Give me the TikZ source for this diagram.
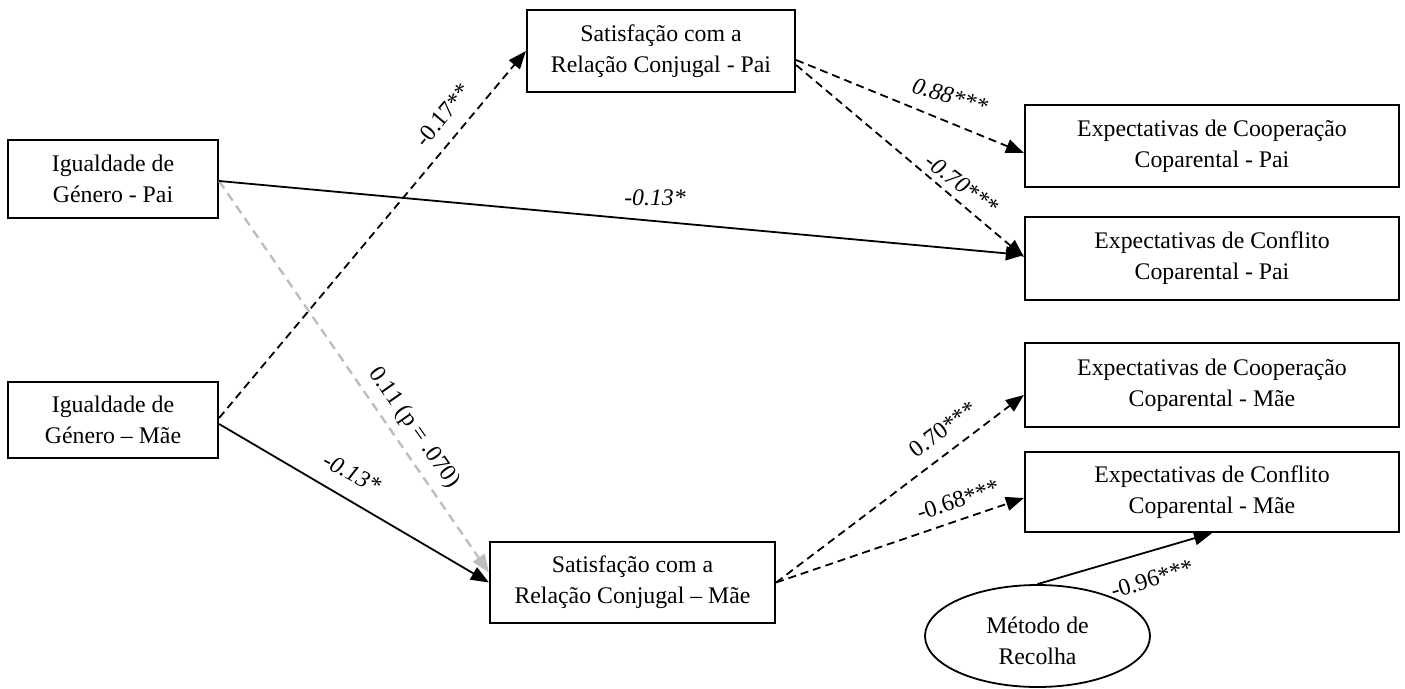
\documentclass[tikz,border=0pt]{standalone}
\usepackage{fontspec}
\setmainfont{Liberation Serif}
\usetikzlibrary{arrows.meta,shapes.geometric}
\begin{document}
\begin{tikzpicture}[x=1pt,y=-1pt,
  every node/.style={font=\fontsize{23.8}{31}\selectfont},
  box/.style={draw,line width=2.2pt,rectangle,align=center,inner sep=0pt},
  oval/.style={draw,line width=1.8pt,ellipse,inner sep=0pt},
  path/.style={line width=1.8pt,-{Triangle[length=18pt,width=14pt]}},
  dpath/.style={path,dash pattern=on 8pt off 5pt},
  gpath/.style={path,draw={rgb,255:red,190;green,190;blue,190},line width=2.4pt,dash pattern=on 9pt off 6pt},
  lab/.style={inner sep=1pt}
]
\useasboundingbox (0,0) rectangle (1405,688);
\node[box,minimum width=210pt,minimum height=78pt] (igpai) at (113,179) {Igualdade de\\Género - Pai};
\node[box,minimum width=210pt,minimum height=76pt] (igmae) at (113,420) {Igualdade de\\Género – Mãe};
\node[box,minimum width=268pt,minimum height=82pt] (satpai) at (661,51) {Satisfação com a\\Relação Conjugal - Pai};
\node[box,minimum width=285pt,minimum height=81pt] (satmae) at (632.5,582.5) {Satisfação com a\\Relação Conjugal – Mãe};
\node[box,minimum width=374pt,minimum height=82pt] (ecoopp) at (1212,146) {Expectativas de Cooperação\\Coparental - Pai};
\node[box,minimum width=374pt,minimum height=83pt] (econfp) at (1212,258.5) {Expectativas de Conflito\\Coparental - Pai};
\node[box,minimum width=374pt,minimum height=84pt] (ecoopm) at (1212,385) {Expectativas de Cooperação\\Coparental - Mãe};
\node[box,minimum width=374pt,minimum height=80pt] (econfm) at (1212,492) {Expectativas de Conflito\\Coparental - Mãe};
\node[oval,minimum width=225pt,minimum height=102pt] (met) at (1037.5,636) {};
\node[align=center] (mett) at ([yshift=-5pt]met.center) {Método de\\Recolha};

\draw[gpath] ([yshift=-2pt]igpai.east) -- ([yshift=10pt]satmae.west);
\draw[dpath] ([yshift=2pt]igmae.east) -- (satpai.west);
\draw[path] ([yshift=-2pt]igpai.east) -- ([yshift=3.5pt]econfp.west);
\draw[path] ([yshift=-4pt]igmae.east) -- (satmae.west);
\draw[dpath] ([yshift=-9pt]satpai.east) -- ([yshift=-7pt]ecoopp.west);
\draw[dpath] ([yshift=-14pt]satpai.east) -- ([yshift=1.5pt]econfp.west);
\draw[dpath] (satmae.east) -- ([yshift=-10pt]ecoopm.west);
\draw[dpath] (satmae.east) -- ([yshift=-6pt]econfm.west);
\draw[path] (met.north) -- (econfm.south);

\node[lab,rotate=50] (l1) at (443,115) {-0.17**};
\node[lab,rotate=-17] (l2) at (950,96) {\itshape 0.88***};
\node[lab,rotate=-37] (l3) at (962,184) {\itshape -0.70***};
\node[lab] (l4) at (655,198) {\itshape -0.13*};
\node[lab,rotate=-55] (l5) at (414,428) {0.11 (p = .070)};
\node[lab,rotate=-28] (l6) at (352,473) {\itshape -0.13*};
\node[lab,rotate=37] (l7) at (943,429) {0.70***};
\node[lab,rotate=18] (l8) at (958,500) {-0.68***};
\node[lab,rotate=17] (l9) at (1152,579) {-0.96***};
\end{tikzpicture}
\end{document}
